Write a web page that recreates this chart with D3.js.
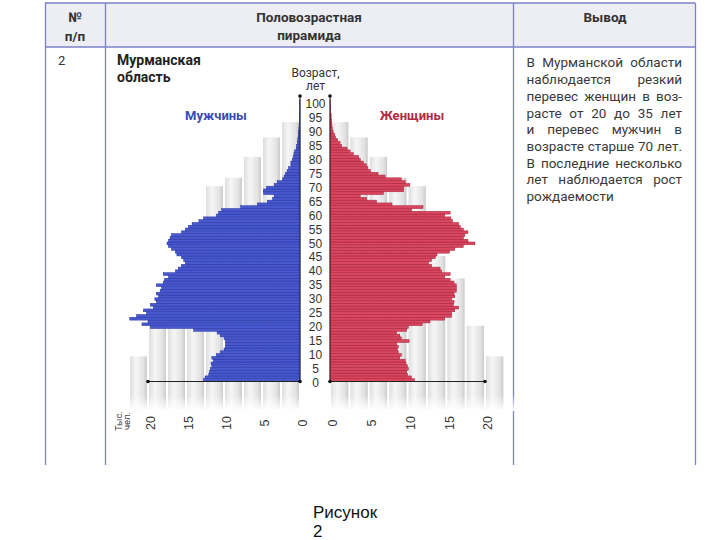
<!DOCTYPE html>
<html>
<head>
<meta charset="utf-8">
<script src="https://cdn.jsdelivr.net/npm/d3@7"></script>
<style>
body { margin: 0; background: #fff; }
</style>
</head>
<body>
<div id="chart"></div>
<script>
// population by single year of age (index = age), thousands of people
var maleValues = [
    12.7, 12.5, 12.0, 11.9, 11.8, 11.6, 11.7, 11.4, 11.6, 11.0,
    10.5, 10.0, 9.8, 9.8, 9.8, 10.0, 10.5, 10.9, 14.0, 19.7,
    20.8, 20.0, 22.4, 21.5, 20.2, 20.6, 19.3, 19.7, 18.9, 19.1,
    18.6, 18.9, 18.4, 18.2, 18.9, 18.0, 17.8, 17.3, 18.0, 16.4,
    16.0, 15.6, 15.1, 15.3, 15.6, 16.2, 16.4, 16.9, 17.3, 17.5,
    17.3, 17.1, 16.9, 15.6, 15.1, 14.7, 14.2, 13.3, 12.7, 11.0,
    10.7, 10.3, 7.8, 5.6, 4.3, 3.6, 3.4, 4.8, 4.8, 4.4,
    3.4, 3.0, 2.3, 2.1, 1.9, 1.7, 1.5, 1.2, 1.2, 1.0,
    0.9, 0.8, 0.7, 0.5, 0.45, 0.35, 0.3, 0.25, 0.2, 0.2,
    0.15, 0.12, 0.1, 0.1, 0.08, 0.08, 0.06, 0.05, 0.05, 0.04, 0.04
];
var femaleValues = [
    10.9, 10.5, 10.0, 9.9, 10.1, 10.0, 9.8, 9.7, 9.0, 9.2,
    8.8, 8.7, 8.8, 8.6, 10.2, 9.2, 9.0, 8.6, 9.9, 10.1,
    11.9, 12.9, 14.8, 15.7, 15.7, 16.1, 16.6, 15.9, 16.0, 15.7,
    16.1, 16.0, 16.3, 16.3, 16.3, 16.0, 15.5, 14.8, 15.5, 14.4,
    14.2, 13.1, 12.7, 13.1, 13.6, 13.8, 15.4, 16.1, 17.2, 18.7,
    17.8, 17.2, 17.4, 17.8, 17.2, 16.8, 16.6, 15.8, 15.6, 14.8,
    15.5, 10.5, 12.0, 8.0, 6.0, 4.7, 3.9, 6.9, 9.5, 9.5,
    10.3, 9.7, 9.2, 7.1, 6.2, 5.2, 4.9, 4.7, 4.3, 3.9,
    3.7, 3.0, 2.6, 2.2, 1.5, 1.3, 1.0, 0.7, 0.6, 0.4,
    0.3, 0.25, 0.2, 0.2, 0.15, 0.15, 0.1, 0.1, 0.1, 0.05, 0.05
];
var ageTicks = [0, 5, 10, 15, 20, 25, 30, 35, 40, 45, 50, 55, 60, 65, 70, 75, 80, 85, 90, 95, 100];
var valueTicks = [0, 5, 10, 15, 20];

// decorative grey columns behind the pyramid: start value and top age
var columnStarts = [0, 2.5, 5, 7.5, 10, 12.5, 15, 17.5, 20];
var columnTops = [93, 87.5, 80.5, 73, 70, 45, 37, 20, 9];

var conclusionLines = [
    "В Мурманской области",
    "наблюдается резкий",
    "перевес женщин в воз-",
    "расте от 20 до 35 лет",
    "и перевес мужчин в",
    "возрасте старше 70 лет.",
    "В последние несколько",
    "лет наблюдается рост",
    "рождаемости"
];

var width = 720,
    height = 540;

var svg = d3.select("#chart")
    .append("svg")
    .attr("width", width)
    .attr("height", height);

var defs = svg.append("defs");
var grad = defs.append("linearGradient").attr("id", "colGrad");
grad.append("stop").attr("offset", "0%").attr("stop-color", "#dedede");
grad.append("stop").attr("offset", "35%").attr("stop-color", "#f6f6f6");
grad.append("stop").attr("offset", "80%").attr("stop-color", "#e2e2e2");
grad.append("stop").attr("offset", "100%").attr("stop-color", "#cbcbcb");
var fade = defs.append("linearGradient").attr("id", "fade")
    .attr("x1", 0).attr("x2", 0).attr("y1", 0).attr("y2", 1);
fade.append("stop").attr("offset", "0%").attr("stop-color", "#fff").attr("stop-opacity", 0);
fade.append("stop").attr("offset", "100%").attr("stop-color", "#fff").attr("stop-opacity", 1);

var tableFont = "Roboto, 'Noto Sans', sans-serif";
var numFont = "'Liberation Sans', Arial, sans-serif";
var border = "#7d80c6";

// table header and frame
svg.append("rect")
    .attr("x", 45).attr("y", 3)
    .attr("width", 650).attr("height", 44)
    .attr("fill", "#eceef4");

[[45, 3, 695, 3], [45, 47, 695, 47],
 [45.5, 3, 45.5, 465], [105.5, 3, 105.5, 465], [513.5, 3, 513.5, 465], [695.5, 3, 695.5, 465]]
    .forEach(function (l) {
        svg.append("line")
            .attr("x1", l[0]).attr("y1", l[1]).attr("x2", l[2]).attr("y2", l[3])
            .attr("stroke", border).attr("stroke-width", 1.3);
    });

var header = [["№", 75, 17], ["п/п", 75, 36], ["Половозрастная", 309, 17], ["пирамида", 309, 35], ["Вывод", 605, 17]];
header.forEach(function (h) {
    svg.append("text")
        .attr("x", h[1]).attr("y", h[2])
        .attr("dy", "0.35em")
        .attr("text-anchor", "middle")
        .style("font-family", tableFont)
        .style("font-weight", "bold")
        .style("font-size", "13.5px")
        .style("fill", "#333")
        .text(h[0]);
});

svg.append("text")
    .attr("x", 58).attr("y", 60).attr("dy", "0.35em")
    .style("font-family", tableFont).style("font-size", "13px").style("fill", "#333")
    .text("2");

svg.append("text")
    .attr("x", 117).attr("y", 60).attr("dy", "0.35em")
    .style("font-family", tableFont).style("font-weight", "bold")
    .style("font-size", "14px").style("fill", "#222")
    .text("Мурманская");
svg.append("text")
    .attr("x", 117).attr("y", 77).attr("dy", "0.35em")
    .style("font-family", tableFont).style("font-weight", "bold")
    .style("font-size", "14px").style("fill", "#222")
    .text("область");

// conclusion text, justified like the book
var textG = svg.append("g")
    .style("font-family", tableFont)
    .style("font-size", "13.5px")
    .style("fill", "#3a3a3a");

function justifyLine(words, x0, x1, yy, justify) {
    var nodes = words.map(function (w) {
        return textG.append("text").attr("y", yy).attr("dy", "0.35em").text(w);
    });
    var widths = nodes.map(function (n) { return n.node().getComputedTextLength(); });
    var gap = justify && words.length > 1 ? (x1 - x0 - d3.sum(widths)) / (words.length - 1) : 4;
    var x = x0;
    nodes.forEach(function (n, i) {
        n.attr("x", x);
        x += widths[i] + gap;
    });
}

conclusionLines.forEach(function (line, i) {
    justifyLine(line.split(" "), 526.5, 682, 62.7 + i * 16.7, i < conclusionLines.length - 1);
});

// scales
var y = d3.scaleLinear().domain([0, 100]).range([381.5, 102.5]);
var xMale = d3.scaleLinear().domain([0, 20]).range([300, 148]);
var xFemale = d3.scaleLinear().domain([0, 20]).range([330, 485]);
var colBottom = 409;

// background columns
var cols = svg.append("g");
columnStarts.forEach(function (s, i) {
    cols.append("rect")
        .attr("x", xMale(s + 2.5) + 1)
        .attr("y", y(columnTops[i]))
        .attr("width", xMale(s) - xMale(s + 2.5) - 2)
        .attr("height", colBottom - y(columnTops[i]))
        .attr("fill", "url(#colGrad)");
    cols.append("rect")
        .attr("x", xFemale(s) + 1)
        .attr("y", y(columnTops[i]))
        .attr("width", xFemale(s + 2.5) - xFemale(s) - 2)
        .attr("height", colBottom - y(columnTops[i]))
        .attr("fill", "url(#colGrad)");
});
svg.append("rect")
    .attr("x", 120).attr("y", colBottom - 14)
    .attr("width", 400).attr("height", 16)
    .attr("fill", "url(#fade)");

// bars
var step = y(0) - y(1);
svg.append("g")
    .selectAll("rect")
    .data(maleValues)
    .enter()
    .append("rect")
    .attr("x", function (d) { return xMale(d); })
    .attr("y", function (d, i) { return y(i + 1); })
    .attr("width", function (d) { return xMale(0) - xMale(d); })
    .attr("height", step)
    .attr("fill", "#4859cf")
    .attr("stroke", "#27329c")
    .attr("stroke-width", 0.5);

svg.append("g")
    .selectAll("rect")
    .data(femaleValues)
    .enter()
    .append("rect")
    .attr("x", xFemale(0))
    .attr("y", function (d, i) { return y(i + 1); })
    .attr("width", function (d) { return xFemale(d) - xFemale(0); })
    .attr("height", step)
    .attr("fill", "#d8465f")
    .attr("stroke", "#a51f37")
    .attr("stroke-width", 0.5);

// axis lines with dots
var axisLines = [
    [xMale(20), y(0), xMale(0), y(0)],
    [xFemale(0), y(0), xFemale(20), y(0)],
    [xMale(0), y(0), xMale(0), 96],
    [xFemale(0), y(0), xFemale(0), 96]
];
axisLines.forEach(function (l) {
    svg.append("line")
        .attr("x1", l[0]).attr("y1", l[1]).attr("x2", l[2]).attr("y2", l[3])
        .attr("stroke", "#222").attr("stroke-width", 1);
});
[[xMale(20), y(0)], [xMale(0), y(0)], [xFemale(0), y(0)], [xFemale(20), y(0)], [xMale(0), 96], [xFemale(0), 96]]
    .forEach(function (p) {
        svg.append("circle").attr("cx", p[0]).attr("cy", p[1]).attr("r", 1.8).attr("fill", "#111");
    });

// age labels
var ageAxis = svg.append("g")
    .attr("transform", "translate(315.5,1.2)")
    .call(d3.axisLeft(y).tickValues(ageTicks).tickSize(0).tickPadding(0));
ageAxis.select(".domain").remove();
ageAxis.selectAll("text")
    .attr("x", 0)
    .style("text-anchor", "middle")
    .style("font-family", numFont)
    .style("font-size", "12px")
    .style("fill", "#333");

svg.append("text")
    .attr("x", 315.5).attr("y", 73).attr("dy", "0.35em")
    .attr("text-anchor", "middle")
    .style("font-family", tableFont).style("font-size", "12px").style("fill", "#333")
    .text("Возраст,");
svg.append("text")
    .attr("x", 315.5).attr("y", 86).attr("dy", "0.35em")
    .attr("text-anchor", "middle")
    .style("font-family", tableFont).style("font-size", "12px").style("fill", "#333")
    .text("лет");

// value axes (rotated labels)
function valueAxis(scale) {
    var g = svg.append("g")
        .attr("transform", "translate(0,423)")
        .call(d3.axisBottom(scale).tickValues(valueTicks).tickSize(0));
    g.select(".domain").remove();
    g.selectAll("text")
        .attr("x", 0).attr("y", 0)
        .attr("dy", "0.55em")
        .attr("transform", "rotate(-90)")
        .style("text-anchor", "middle")
        .style("font-family", numFont)
        .style("font-size", "12.5px")
        .style("fill", "#333");
}
valueAxis(xMale);
valueAxis(xFemale);

svg.append("text")
    .attr("transform", "translate(118.5,421) rotate(-90)")
    .attr("text-anchor", "middle").attr("dy", "0.35em")
    .style("font-family", tableFont).style("font-size", "9.5px").style("fill", "#444")
    .text("Тыс.");
svg.append("text")
    .attr("transform", "translate(127,421) rotate(-90)")
    .attr("text-anchor", "middle").attr("dy", "0.35em")
    .style("font-family", tableFont).style("font-size", "9.5px").style("fill", "#444")
    .text("чел.");

// series titles
svg.append("text")
    .attr("x", 216).attr("y", 115).attr("dy", "0.35em")
    .attr("text-anchor", "middle")
    .style("font-family", tableFont).style("font-weight", "bold")
    .style("font-size", "13px").style("fill", "#3b4bb3")
    .text("Мужчины");
svg.append("text")
    .attr("x", 412).attr("y", 115).attr("dy", "0.35em")
    .attr("text-anchor", "middle")
    .style("font-family", tableFont).style("font-weight", "bold")
    .style("font-size", "13px").style("fill", "#b22a40")
    .text("Женщины");

// caption
svg.append("text")
    .attr("x", 313).attr("y", 512).attr("dy", "0.35em")
    .style("font-family", numFont).style("font-size", "17px").style("fill", "#111")
    .text("Рисунок");
svg.append("text")
    .attr("x", 313).attr("y", 531).attr("dy", "0.35em")
    .style("font-family", numFont).style("font-size", "17px").style("fill", "#111")
    .text("2");
</script>
</body>
</html>
